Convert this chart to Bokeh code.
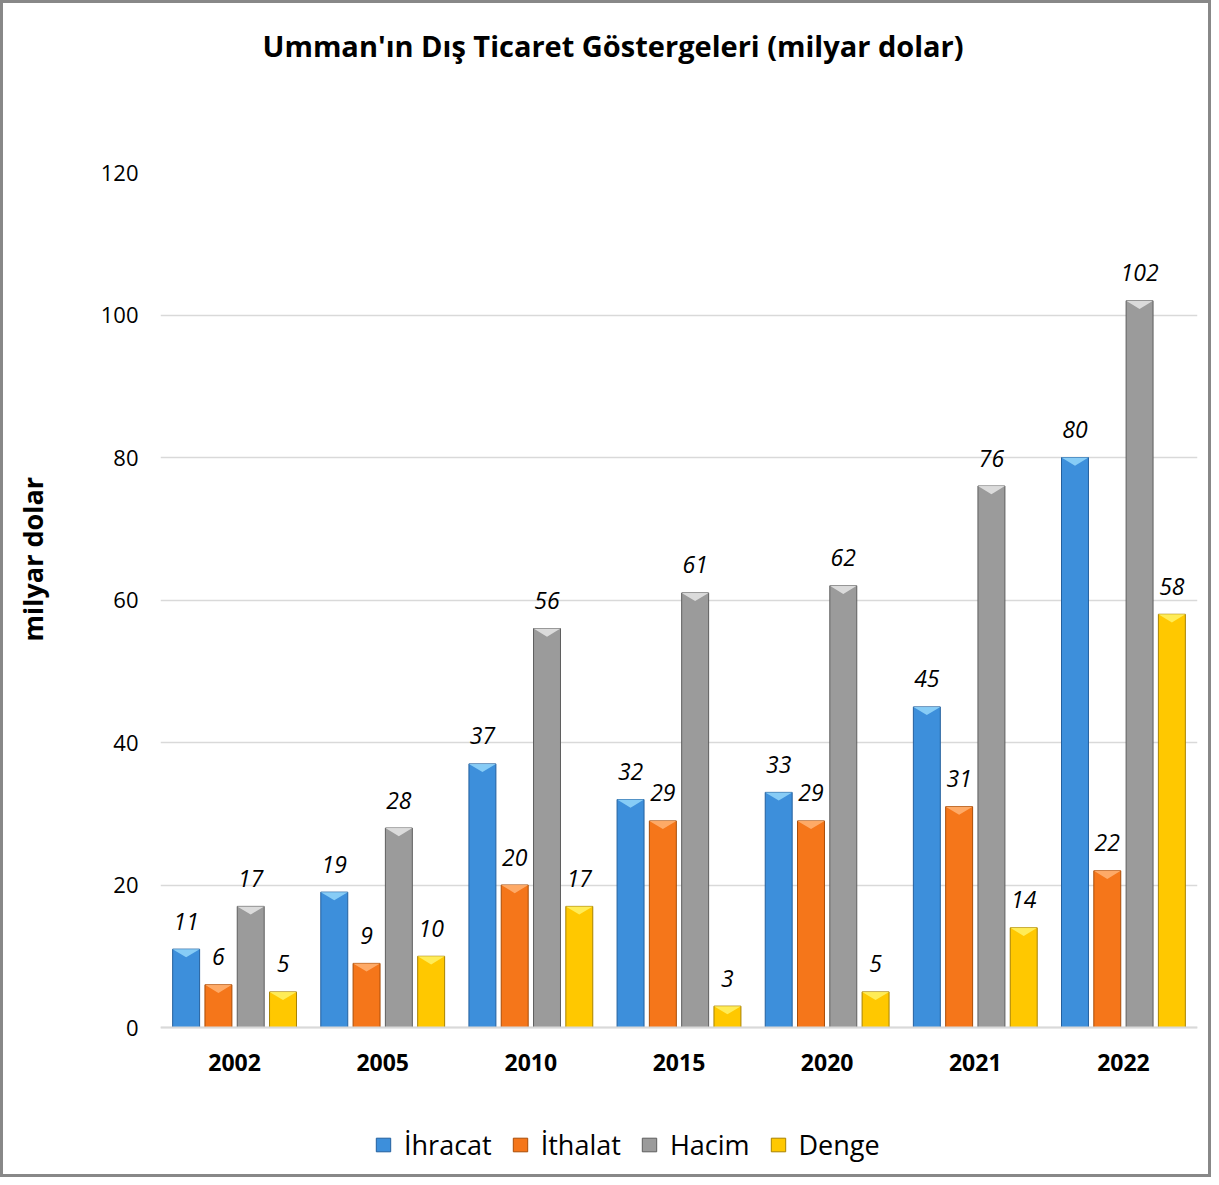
from bokeh.plotting import figure
from bokeh.models import ColumnDataSource, FixedTicker, Legend, LegendItem, Title, Range1d
from bokeh.core.properties import value
from bokeh.embed import file_html
from bokeh.resources import INLINE

# ---- data ----
years = ["2002", "2005", "2010", "2015", "2020", "2021", "2022"]
ihracat = [11, 19, 37, 32, 33, 45, 80]
ithalat = [6, 9, 20, 29, 29, 31, 22]
hacim = [17, 28, 56, 61, 62, 76, 102]
denge = [5, 10, 17, 3, 5, 14, 58]
series_names = ["İhracat", "İthalat", "Hacim", "Denge"]
y_ticks = [0, 20, 40, 60, 80, 100, 120]

# ---- style ----
FONT = "Open Sans"
fills = ["#3D8FDB", "#F5761A", "#9B9B9B", "#FFC800"]
tops = ["#8FD3F8", "#FFB070", "#E2E2E2", "#FFF060"]
edges = ["#24609E", "#A94D08", "#5E5E5E", "#A88200"]
offsets = [-0.327, -0.109, 0.109, 0.327]
bar_w = 0.182
bevel = 1.15

# frame runs to the bottom so that the legend can sit inside it;
# the x axis is pinned at y = 0
p = figure(width=1211, height=1177, output_backend="svg", toolbar_location=None,
           x_range=Range1d(0, len(years)), y_range=Range1d(-20.07, 120),
           min_border_left=157, min_border_right=17, min_border_top=169,
           min_border_bottom=10)
p.styles = {"border": "3px solid #888888"}

p.title.text = "Umman'ın Dış Ticaret Göstergeleri  (milyar dolar)"
p.title.text_font = FONT
p.title.text_font_size = "29px"
p.title.text_font_style = "bold"
p.title.text_color = "#000000"
p.title.align = "left"
p.title.offset = 102
p.title.standoff = 0
# spacer between the frame and the title
tspacer = Title(text=" ", text_font=FONT, text_font_size="20px", standoff=79)
p.add_layout(tspacer, "above")

p.outline_line_color = None
p.xgrid.grid_line_color = None
p.ygrid.grid_line_color = "#D9D9D9"
p.ygrid.grid_line_width = 1.5

p.yaxis.ticker = FixedTicker(ticks=y_ticks)
p.yaxis.axis_line_color = None
p.yaxis.major_tick_line_color = None
p.yaxis.minor_tick_line_color = None
p.yaxis.major_label_text_font = FONT
p.yaxis.major_label_text_font_size = "22px"
p.yaxis.major_label_text_color = "#000000"
p.yaxis.major_label_standoff = 16

yspacer = Title(text=" ", text_font=FONT, text_font_size="20px", standoff=18)
p.add_layout(yspacer, "left")
ylab = Title(text="milyar dolar", align="left", offset=529,
             text_font=FONT, text_font_size="27px", text_font_style="bold",
             text_color="#000000", standoff=0)
p.add_layout(ylab, "left")

centers = [i + 0.5 for i in range(len(years))]
p.xaxis.fixed_location = 0
p.xaxis.ticker = FixedTicker(ticks=centers)
p.xaxis.major_label_overrides = {c: y for c, y in zip(centers, years)}
p.xaxis.axis_line_color = "#D9D9D9"
p.xaxis.axis_line_width = 2
p.xaxis.major_tick_line_color = None
p.xaxis.minor_tick_line_color = None
p.xaxis.major_label_text_font = FONT
p.xaxis.major_label_text_font_size = "23px"
p.xaxis.major_label_text_font_style = "bold"
p.xaxis.major_label_text_color = "#000000"
p.xaxis.major_label_standoff = 20

items = []
for k, vals in enumerate([ihracat, ithalat, hacim, denge]):
    xs = [c + offsets[k] for c in centers]
    src = ColumnDataSource(dict(x=xs, top=vals, label=[str(v) for v in vals]))
    r = p.vbar(x="x", top="top", bottom=0, width=bar_w, source=src,
               fill_color=fills[k], line_color=edges[k], line_width=1)
    # light bevel on top of each bar
    tx = [[x - bar_w / 2, x + bar_w / 2, x] for x in xs]
    ty = [[v, v, v - bevel] for v in vals]
    p.patches(tx, ty, fill_color=tops[k], line_color=None, fill_alpha=0.9)
    p.text(x="x", y="top", text="label", source=src, text_align="center",
           text_baseline="middle", y_offset=-28, text_font=value(FONT),
           text_font_size="23px", text_font_style="italic", text_color="#000000")
    items.append(LegendItem(label=series_names[k], renderers=[r]))

legend = Legend(items=items, orientation="horizontal", location=(214, 7),
                glyph_width=18, glyph_height=17, label_standoff=12, spacing=19,
                padding=0, margin=0, border_line_color=None,
                background_fill_alpha=0, label_text_font=FONT,
                label_text_font_size="27px", label_text_color="#000000")
p.add_layout(legend, "center")

open("out.html", "w").write(file_html(p, INLINE))
